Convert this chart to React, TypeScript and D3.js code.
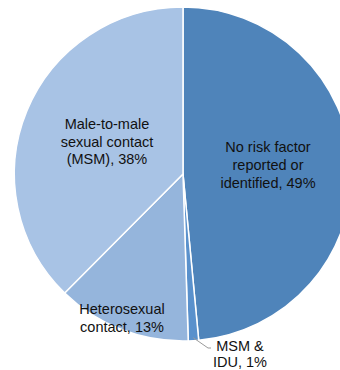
import React from "react";
import * as d3 from "d3";

const categories = [
  "No risk factor reported or identified",
  "MSM & IDU",
  "Heterosexual contact",
  "Male-to-male sexual contact (MSM)",
];
const values = [49, 1, 13, 38];
const colors = ["#4f84ba", "#5a91cc", "#95b5dc", "#a8c3e5"];
const labelLines = [
  ["No risk factor", "reported or", "identified, 49%"],
  ["MSM &", "IDU, 1%"],
  ["Heterosexual", "contact, 13%"],
  ["Male-to-male", "sexual contact", "(MSM), 38%"],
];

const W = 340;
const H = 370;
const cx = 183;
const cy = 174;
const R = 167;

export default function App() {
  const data = categories.map((c, i) => ({ name: c, value: values[i], i }));
  const pie = d3.pie<any>().value((d) => d.value).sort(null);
  const arcs = pie(data);
  const arc = d3.arc<any>().innerRadius(0).outerRadius(R);

  // label anchor positions
  const labelPos = [
    { x: 268, y: 152 },
    { x: 240, y: 351 },
    { x: 122, y: 314 },
    { x: 107, y: 129 },
  ];
  const lh = [18, 15.5, 18, 17.5];

  // leader for the thin slice
  const thin = arcs[1];
  const mid = (thin.startAngle + thin.endAngle) / 2;
  const lx0 = Math.sin(mid) * (R - 3);
  const ly0 = -Math.cos(mid) * (R - 3);

  return (
    <svg
      width={W}
      height={H}
      style={{ position: "absolute", left: 0, top: 0, background: "#fff" }}
      fontFamily="'Liberation Sans', Arial, sans-serif"
    >
      <g transform={`translate(${cx},${cy}) scale(1.01,1)`}>
        {arcs.map((a, i) => (
          <path
            key={i}
            d={arc(a) as string}
            fill={colors[i]}
            stroke="#ffffff"
            strokeWidth={1.5}
          />
        ))}
      </g>
      <polyline
        points={`${cx + lx0},${cy + ly0} ${208},${348} ${211},${348}`}
        fill="none"
        stroke="#9a9a9a"
        strokeWidth={1}
      />
      {labelLines.map((lines, i) =>
        lines.map((t, j) => (
          <text
            key={`${i}-${j}`}
            x={labelPos[i].x}
            y={labelPos[i].y + j * lh[i]}
            textAnchor="middle"
            fontSize={14.5}
            fill="#111"
          >
            {t}
          </text>
        ))
      )}
    </svg>
  );
}
